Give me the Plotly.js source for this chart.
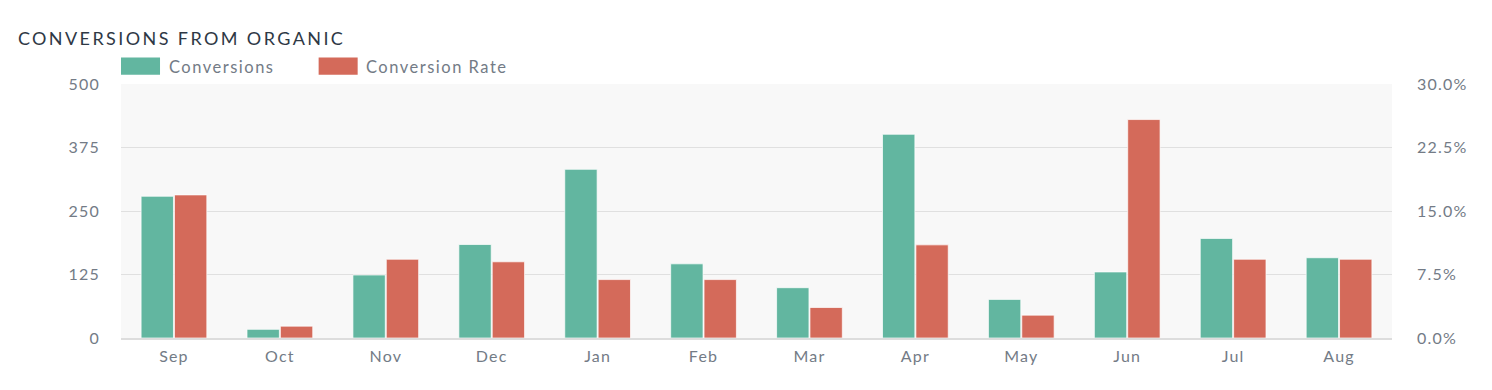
<!DOCTYPE html>
<html>
<head>
<meta charset="utf-8">
<script src="https://cdn.plot.ly/plotly-3.0.1.min.js"></script>
<style>
html,body{margin:0;padding:0;background:#fff;}
#chart{width:1492px;height:390px;}
.gtitle{letter-spacing:2.4px;}
.annotation-text{letter-spacing:1.5px;}
.xtick text,.ytick text,.y2tick text{letter-spacing:1.2px;}
</style>
</head>
<body>
<div id="chart"></div>
<script>
const months = ['Sep','Oct','Nov','Dec','Jan','Feb','Mar','Apr','May','Jun','Jul','Aug'];
const conversions = [279, 17, 124, 184, 332, 146, 99, 401, 76, 130, 196, 158];
const conversionRate = [0.169, 0.014, 0.093, 0.090, 0.069, 0.069, 0.036, 0.110, 0.027, 0.258, 0.093, 0.093];
const seriesNames = ['Conversions', 'Conversion Rate'];
const leftTicks = [0, 125, 250, 375, 500];
const rightTicks = [0, 0.075, 0.15, 0.225, 0.30];

const green = '#62B6A0';
const red = '#D46A5A';
const tickColor = '#737B86';
const font = 'Lato, "Open Sans", sans-serif';

const traces = [
  {type:'bar', x:months, y:conversions, name:seriesNames[0], yaxis:'y', offsetgroup:'a',
   marker:{color:green, line:{color:'rgba(255,255,255,0.7)', width:1}}, showlegend:false},
  {type:'bar', x:months, y:conversionRate, name:seriesNames[1], yaxis:'y2', offsetgroup:'b',
   marker:{color:red, line:{color:'rgba(255,255,255,0.7)', width:1}}, showlegend:false}
];

const layout = {
  width:1492, height:390,
  paper_bgcolor:'#ffffff', plot_bgcolor:'#F8F8F8',
  margin:{l:121, r:100, t:84, b:52},
  barmode:'group', bargap:0.37, bargroupgap:0.03,
  font:{family:font, color:tickColor, size:16},
  title:{text:'CONVERSIONS FROM ORGANIC', x:0.012, xanchor:'left', y:0.9, yanchor:'middle', yref:'container',
         font:{family:font, size:18, color:'#2E3845'}},
  xaxis:{showgrid:false, zeroline:false, showline:true, linecolor:'#DDDDDD', linewidth:2,
         ticks:'', ticklabelstandoff:3, tickfont:{size:16, color:tickColor}, fixedrange:true},
  yaxis:{range:[0,500], tickvals:leftTicks, ticktext:leftTicks.map(String), showgrid:true, gridcolor:'#E0E0E0', gridwidth:1,
         zeroline:false, showline:false, ticks:'', ticklabelstandoff:20, tickfont:{size:16, color:tickColor}},
  yaxis2:{range:[0,0.30], tickvals:rightTicks, tickformat:'.1%', overlaying:'y', side:'right', showgrid:false,
          zeroline:false, showline:false, ticks:'', ticklabelstandoff:24, tickfont:{size:16, color:tickColor}},
  shapes:[
    {type:'rect', xref:'paper', yref:'paper', x0:0, x1:0.0307, y0:1.036, y1:1.104, fillcolor:green, line:{width:0}},
    {type:'rect', xref:'paper', yref:'paper', x0:0.1555, x1:0.1862, y0:1.036, y1:1.104, fillcolor:red, line:{width:0}}
  ],
  annotations:[
    {xref:'paper', yref:'paper', x:0.036, y:1.066, xanchor:'left', yanchor:'middle', showarrow:false,
     text:seriesNames[0], font:{size:16.5, color:tickColor, family:font}},
    {xref:'paper', yref:'paper', x:0.1915, y:1.066, xanchor:'left', yanchor:'middle', showarrow:false,
     text:seriesNames[1], font:{size:16.5, color:tickColor, family:font}}
  ]
};

Plotly.newPlot('chart', traces, layout, {displayModeBar:false, staticPlot:true});
</script>
</body>
</html>
